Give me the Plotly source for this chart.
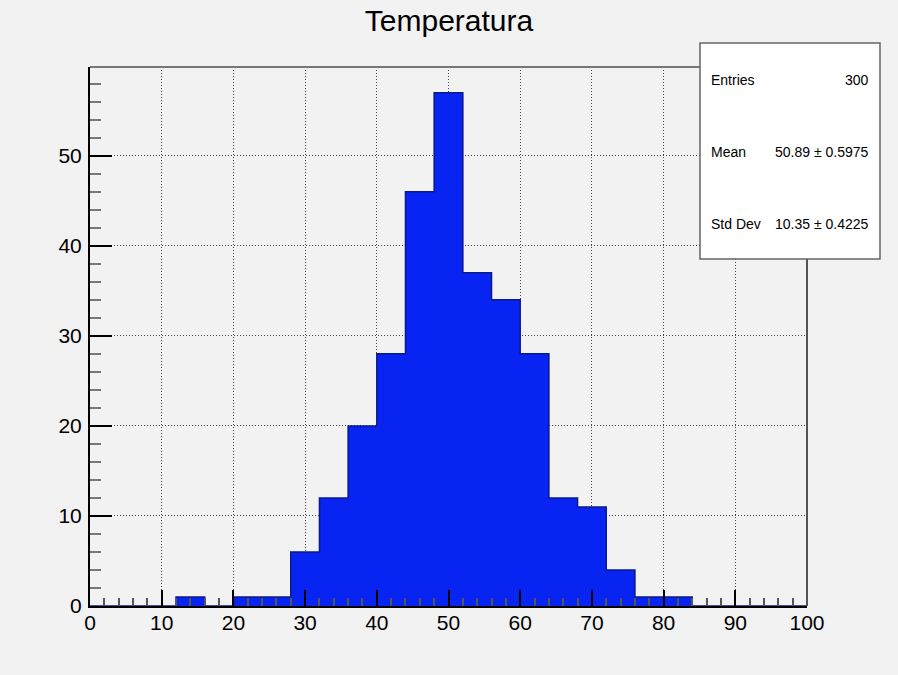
import plotly.graph_objects as go

# histogram of temperature readings, 25 bins of width 4 over [0, 100]
bin_edges = [0, 4, 8, 12, 16, 20, 24, 28, 32, 36, 40, 44, 48, 52, 56, 60,
             64, 68, 72, 76, 80, 84, 88, 92, 96, 100]
counts = [0, 0, 0, 1, 0, 1, 1, 6, 12, 20, 28, 46, 57, 37, 34, 28,
          12, 11, 4, 1, 1, 0, 0, 0, 0]

stat_labels = ["Entries", "Mean", "Std Dev"]
stat_values = ["300", "50.89 \u00b1 0.5975", "10.35 \u00b1 0.4225"]

title = "Temperatura"

BG = "#f2f2f2"
FILL = "#0724f2"
EDGE = "#0a1a8c"
FONT = "Liberation Sans, Arial, sans-serif"

W, H = 898, 675
L, R, T, B = 90, 91, 67, 69
pw, ph = W - L - R, H - T - B

centers = [(a + b) / 2 for a, b in zip(bin_edges[:-1], bin_edges[1:])]
widths = [b - a for a, b in zip(bin_edges[:-1], bin_edges[1:])]

fig = go.Figure()
fig.add_trace(go.Bar(
    x=centers, y=counts, width=widths,
    marker=dict(color=FILL, line=dict(width=0)),
    showlegend=False,
))
# step outline like ROOT draws it
fig.add_trace(go.Scatter(
    x=bin_edges, y=counts + [counts[-1]],
    mode="lines", line=dict(shape="hv", color=EDGE, width=1.5),
    showlegend=False, hoverinfo="skip",
))

ymax = max(counts) * 1.05


def px_x(p):
    return (p - L) / pw


def px_y(p):
    return (H - B - p) / ph


fig.update_layout(
    width=W, height=H,
    margin=dict(l=L, r=R, t=T, b=B),
    paper_bgcolor=BG, plot_bgcolor=BG,
    bargap=0,
    font=dict(family=FONT, color="black"),
    title=dict(text=title, x=0.5, xanchor="center", y=1 - 20 / H, yanchor="middle",
               font=dict(size=30, family=FONT)),
    xaxis=dict(
        range=[0, 100], dtick=10, tick0=0,
        ticks="inside", ticklen=16, tickwidth=2, tickcolor="black",
        minor=dict(dtick=2, ticks="inside", ticklen=8, tickwidth=2,
                   tickcolor="#555", showgrid=False),
        showgrid=True, gridcolor="#444", griddash="1px,2px", gridwidth=1,
        showline=True, linecolor="black", linewidth=2,
        zeroline=False, tickfont=dict(size=21), ticklabelstandoff=-3,
    ),
    yaxis=dict(
        range=[0, ymax], dtick=10, tick0=0,
        ticks="inside", ticklen=22, tickwidth=2, tickcolor="black",
        minor=dict(dtick=2, ticks="inside", ticklen=11, tickwidth=2,
                   tickcolor="#777", showgrid=False),
        showgrid=True, gridcolor="#444", griddash="1px,2px", gridwidth=1,
        showline=True, linecolor="black", linewidth=2,
        zeroline=False, tickfont=dict(size=21), ticklabelstandoff=2,
    ),
)

# top and right frame lines
fig.add_shape(type="line", xref="paper", yref="paper", x0=0, x1=1, y0=1, y1=1,
              line=dict(color="#777", width=2))
fig.add_shape(type="line", xref="paper", yref="paper", x0=1, x1=1, y0=0, y1=1,
              line=dict(color="#555", width=2))

# stats box
fig.add_shape(type="rect", xref="paper", yref="paper",
              x0=px_x(700), x1=px_x(880), y0=px_y(259), y1=px_y(43),
              fillcolor="white", line=dict(color="#666", width=1.5))
for i, (lab, val) in enumerate(zip(stat_labels, stat_values)):
    yy = px_y(80 + 72 * i)
    fig.add_annotation(x=px_x(709), y=yy, xref="paper", yref="paper",
                       text=lab, showarrow=False, xanchor="left",
                       yanchor="middle", font=dict(size=14, family=FONT))
    fig.add_annotation(x=px_x(871), y=yy, xref="paper", yref="paper",
                       text=val, showarrow=False, xanchor="right",
                       yanchor="middle", font=dict(size=14, family=FONT))

fig.write_html("out.html", config={"displayModeBar": False},
               post_script="document.body.style.margin='0';")
